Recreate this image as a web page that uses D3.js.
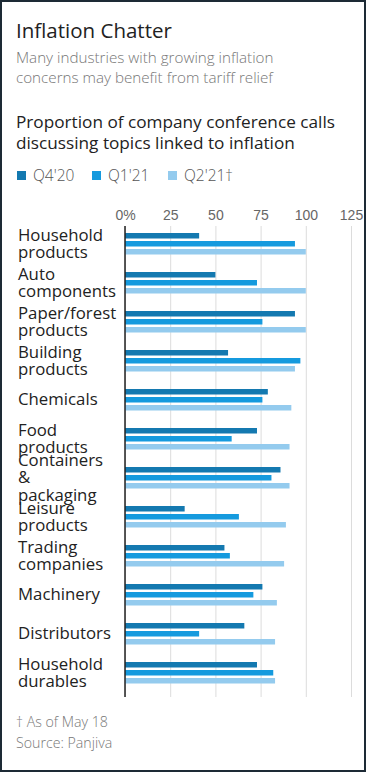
<!DOCTYPE html>
<html>
<head>
<style>
  body { margin: 0; background: #fff; }
  svg { display: block; font-family: "Open Sans", sans-serif; }
  .ttl { fill: #222; font-size: 20.5px; }
  .sub { fill: #777; font-size: 15.2px; font-weight: 300; }
  .head { fill: #222; font-size: 17.2px; }
  .leg text { fill: #555; font-size: 15.5px; font-weight: 300; }
  .tick text { fill: #666; font-size: 14px; font-weight: 300; }
  .cat { fill: #222; font-size: 16.8px; }
  .note { fill: #777; font-size: 14.2px; font-weight: 300; }
</style>
<script src="https://d3js.org/d3.v7.min.js"></script>
</head>
<body>
<svg width="366" height="772"></svg>
<script>
var categories = ["Household products", "Auto components", "Paper/forest products", "Building products",
  "Chemicals", "Food products", "Containers & packaging", "Leisure products", "Trading companies",
  "Machinery", "Distributors", "Household durables"];
var seriesNames = ["Q4'20", "Q1'21", "Q2'21\u2020"];
var q420 = [41, 50, 94, 57, 79, 73, 86, 33, 55, 76, 66, 73];
var q121 = [94, 73, 76, 97, 76, 59, 81, 63, 58, 71, 41, 82];
var q221 = [100, 100, 100, 94, 92, 91, 91, 89, 88, 84, 83, 83];
var tickValues = [0, 25, 50, 75, 100, 125];
var colors = ["#1479b0", "#159ade", "#94cbee"];

var svg = d3.select("svg");
var W = 366, H = 772;

// frame
svg.append("rect").attr("x", 1).attr("y", 1).attr("width", W - 2).attr("height", H - 2)
   .attr("fill", "none").attr("stroke", "#1d2a35").attr("stroke-width", 2);

svg.append("text").attr("class", "ttl").attr("x", 16).attr("y", 38).text("Inflation Chatter");
svg.append("text").attr("class", "sub").attr("x", 16).attr("y", 63).text("Many industries with growing inflation");
svg.append("text").attr("class", "sub").attr("x", 16).attr("y", 83).text("concerns may benefit from tariff relief");
svg.append("text").attr("class", "head").attr("x", 16).attr("y", 128).text("Proportion of company conference calls");
svg.append("text").attr("class", "head").attr("x", 16).attr("y", 149).text("discussing topics linked to inflation");

// legend
var legX = [17, 92, 168];
var leg = svg.append("g").attr("class", "leg");
seriesNames.forEach(function(s, i) {
  leg.append("rect").attr("x", legX[i]).attr("y", 171).attr("width", 9).attr("height", 9).attr("fill", colors[i]);
  leg.append("text").attr("x", legX[i] + 16).attr("y", 181).text(s);
});

var x = d3.scaleLinear().domain([0, 125]).range([125, 351]);
var y = d3.scaleBand().domain(categories).range([233, 233 + 12 * 39]);
var ySub = d3.scaleBand().domain(seriesNames).range([0, 21.5]).paddingInner(0.3125);

var gridTop = 226, gridBottom = 697;

// grid + tick labels
var ax = svg.append("g").attr("transform", "translate(0," + gridBottom + ")")
  .call(d3.axisTop(x).tickValues(tickValues).tickSize(gridBottom - gridTop)
    .tickFormat(function(d) { return d === 0 ? "0%" : d; }));
ax.select(".domain").remove();
ax.selectAll(".tick line").attr("stroke", "#dcdcdc");
ax.selectAll(".tick text").attr("y", -(gridBottom - 220)).attr("dy", 0);

// bars
var table = categories.map(function(c, i) {
  return { cat: c, vals: [q420[i], q121[i], q221[i]] };
});
var grp = svg.selectAll(".grp").data(table).enter().append("g")
  .attr("transform", function(d) { return "translate(0," + y(d.cat) + ")"; });
grp.selectAll("rect").data(function(d) { return d.vals; }).enter().append("rect")
  .attr("x", x(0))
  .attr("y", function(d, i) { return ySub(seriesNames[i]); })
  .attr("width", function(d) { return x(d) - x(0); })
  .attr("height", ySub.bandwidth())
  .attr("fill", function(d, i) { return colors[i]; });

// zero axis
svg.append("line").attr("x1", x(0)).attr("x2", x(0)).attr("y1", gridTop).attr("y2", gridBottom)
   .attr("stroke", "#222").attr("stroke-width", 1.5);

// category labels, one word per line, centred on the group
var lh = 17.5;
grp.each(function(d) {
  var words = d.cat.split(" ");
  var mid = 10.75 + 5.5 - (words.length - 1) * lh / 2;
  var t = d3.select(this).append("text").attr("class", "cat");
  words.forEach(function(w, k) {
    t.append("tspan").attr("x", 18).attr("y", mid + k * lh).text(w);
  });
});

svg.append("text").attr("class", "note").attr("x", 16).attr("y", 727).text("\u2020 As of May 18");
svg.append("text").attr("class", "note").attr("x", 16).attr("y", 748).text("Source: Panjiva");
</script>
</body>
</html>
